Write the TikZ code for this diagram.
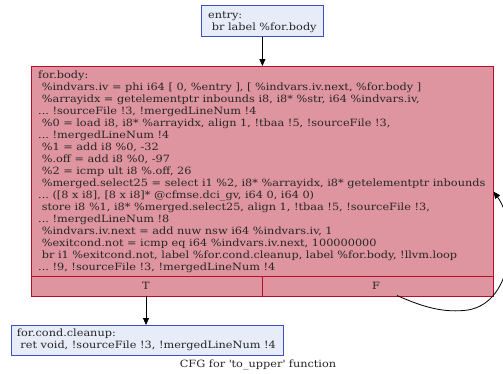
\documentclass[tikz,border=0pt]{standalone}
\usepackage{fontspec}
\setmainfont{DejaVu Serif}[FakeStretch=1.13]
\usetikzlibrary{arrows.meta}
\frenchspacing
\definecolor{hotline}{RGB}{183,13,40}
\definecolor{hotfill}{RGB}{223,149,160}
\definecolor{coldline}{RGB}{61,80,195}
\definecolor{coldfill}{RGB}{230,237,248}
\tikzset{
  cfgfont/.style={font=\fontsize{10}{12}\selectfont},
  hotblock/.style={draw=hotline, fill=hotfill, line width=0.8pt, inner sep=0pt, anchor=north west},
  coldblock/.style={draw=coldline, fill=coldfill, line width=0.8pt, inner sep=0pt, anchor=north west},
  blocktext/.style={cfgfont, align=left, anchor=base west, inner sep=0pt, text=black!85},
  edge/.style={draw=black, line width=0.8pt, -{Triangle[length=7pt,width=6pt]}}
}
\begin{document}
\begin{tikzpicture}[x=1pt, y=-1pt]
\useasboundingbox (0,0) rectangle (503,373);

% entry block (text node anchored on its last baseline)
\node[coldblock, minimum width=122pt, minimum height=31pt] (entry) at (201,5) {};
\node[blocktext] (entrytext) at (208,30) {entry:\\\ br label \%for.body};

% loop body block with its T/F branch row
\node[hotblock, minimum width=462pt, minimum height=229.5pt] (body) at (31,66) {};
\coordinate (rowL) at (31,276.5);
\coordinate (rowR) at (493,276.5);
\coordinate (rowM) at (262,276.5);
\coordinate (rowMB) at (262,295.5);
\draw[hotline, line width=0.8pt] (rowL) -- (rowR);
\draw[hotline, line width=0.8pt] (rowM) -- (rowMB);
\node[cfgfont, anchor=base, inner sep=0pt, text=black!85] (tport) at (146,289) {T};
\node[cfgfont, anchor=base, inner sep=0pt, text=black!85] (fport) at (376,289) {F};
\node[blocktext] (bodytext) at (38,270) {for.body:\\
\ \%indvars.iv = phi i64 [ 0, \%entry ], [ \%indvars.iv.next, \%for.body ]\\
\ \%arrayidx = getelementptr inbounds i8, i8* \%str, i64 \%indvars.iv,\\
... !sourceFile !3, !mergedLineNum !4\\
\ \%0 = load i8, i8* \%arrayidx, align 1, !tbaa !5, !sourceFile !3,\\
... !mergedLineNum !4\\
\ \%1 = add i8 \%0, -32\\
\ \%.off = add i8 \%0, -97\\
\ \%2 = icmp ult i8 \%.off, 26\\
\ \%merged.select25 = select i1 \%2, i8* \%arrayidx, i8* getelementptr inbounds\\
... ([8 x i8], [8 x i8]* @cfmse.dci\_gv, i64 0, i64 0)\\
\ store i8 \%1, i8* \%merged.select25, align 1, !tbaa !5, !sourceFile !3,\\
... !mergedLineNum !8\\
\ \%indvars.iv.next = add nuw nsw i64 \%indvars.iv, 1\\
\ \%exitcond.not = icmp eq i64 \%indvars.iv.next, 100000000\\
\ br i1 \%exitcond.not, label \%for.cond.cleanup, label \%for.body, !llvm.loop\\
... !9, !sourceFile !3, !mergedLineNum !4};

% exit block
\node[coldblock, minimum width=272.5pt, minimum height=30pt] (cleanup) at (10.7,325) {};
\node[blocktext] (cleanuptext) at (16.7,348) {for.cond.cleanup:\\\ ret void, !sourceFile !3, !mergedLineNum !4};

% caption
\node[cfgfont, anchor=base, inner sep=0pt, text=black!85] (caption) at (258,367.5) {CFG for \textquotesingle to\_upper\textquotesingle{} function};

% edges
\draw[edge] (entry.south) -- (body.north);
\coordinate (tout) at (146,295.5);
\draw[edge] (tout) -- (cleanup.north -| tout);
\coordinate (fout) at (397,295.5);
\coordinate (backin) at (493.5,191.5);
\draw[edge] (fout) .. controls (425,308) and (445,313) .. (468,310)
  .. controls (515,302) and (518,225) .. (backin);
\end{tikzpicture}
\end{document}
